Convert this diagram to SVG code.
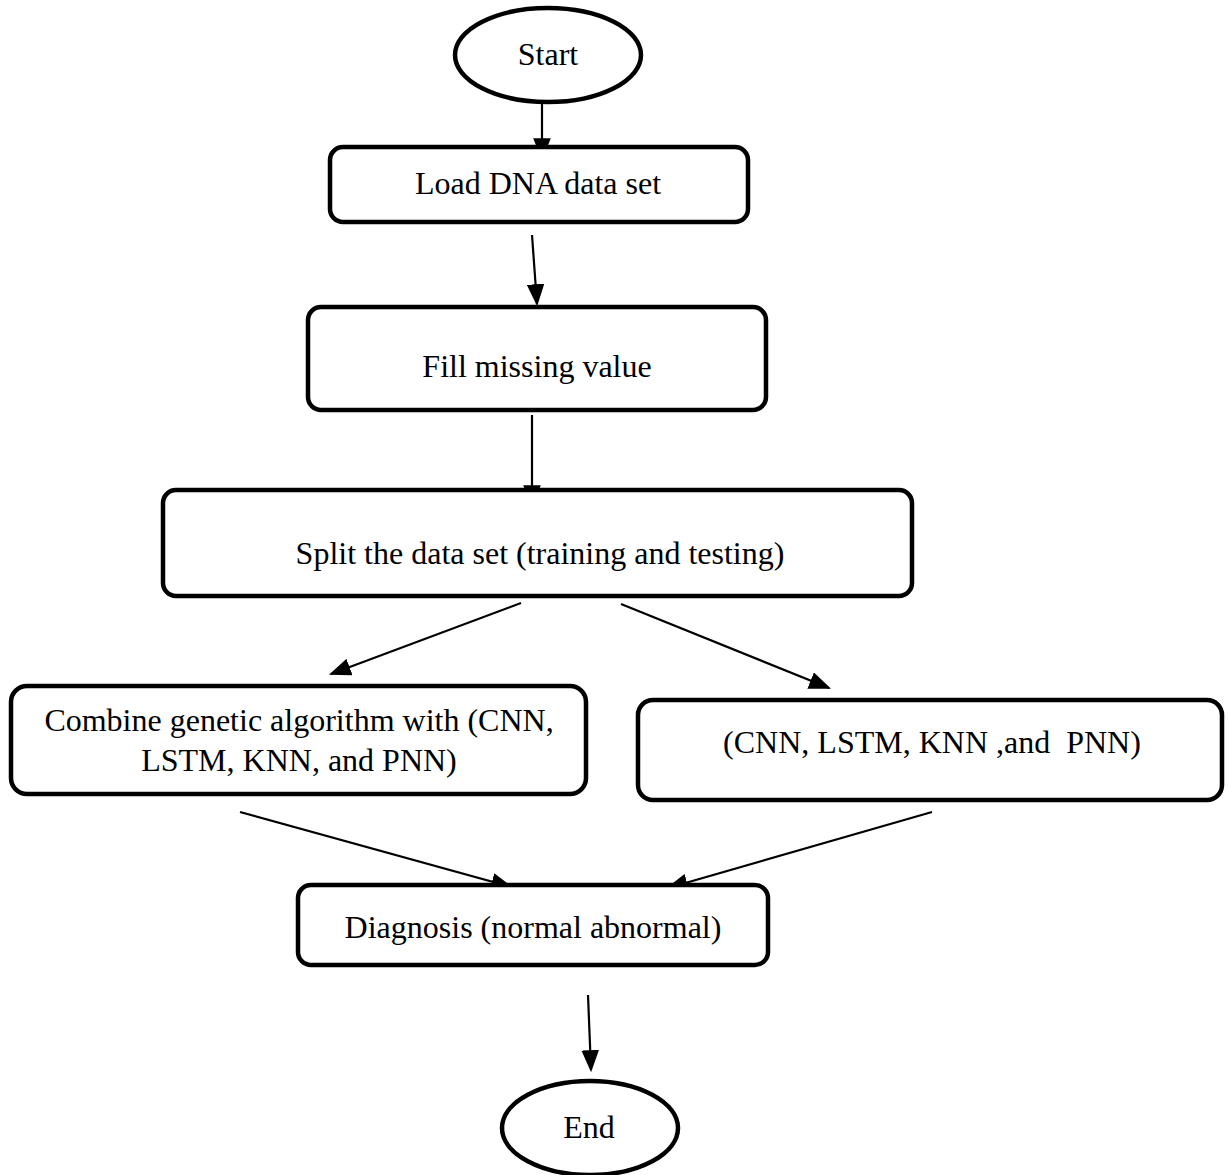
<svg xmlns="http://www.w3.org/2000/svg" width="1229" height="1175" viewBox="0 0 1229 1175">
<style>
.box{fill:#fff;stroke:#000;stroke-width:4.5}
.t{font-family:"Liberation Serif","Times New Roman",serif;font-size:32px;fill:#000;text-anchor:middle;white-space:pre}
.c{stroke:#000;stroke-width:2.2;fill:none;marker-end:url(#ah)}
</style>
<defs>
<marker id="ah" markerWidth="10" markerHeight="8" refX="9" refY="4" orient="auto" markerUnits="strokeWidth">
<path d="M0,0 L10,4 L0,8 Z" fill="#000"/>
</marker>
</defs>
<rect width="1229" height="1175" fill="#fff"/>
<g id="connectors">
<line class="c" x1="542" y1="102" x2="542" y2="158"/>
<line class="c" x1="532" y1="235" x2="537" y2="304"/>
<line class="c" x1="532" y1="415" x2="532" y2="505"/>
<line class="c" x1="521" y1="603" x2="331" y2="674"/>
<line class="c" x1="621" y1="604" x2="829" y2="688"/>
<line class="c" x1="240" y1="812" x2="511" y2="887"/>
<line class="c" x1="932" y1="812" x2="668" y2="888"/>
<line class="c" x1="588" y1="995" x2="591" y2="1070"/>
</g>
<g id="start">
<ellipse class="box" cx="548" cy="55" rx="93" ry="47"/>
<text class="t" x="548" y="65">Start</text>
</g>
<g id="load">
<rect class="box" x="330" y="147" width="418" height="75" rx="13"/>
<text class="t" x="538" y="194">Load DNA data set</text>
</g>
<g id="fill">
<rect class="box" x="308" y="307" width="458" height="103" rx="13"/>
<text class="t" x="537" y="377">Fill missing value</text>
</g>
<g id="split">
<rect class="box" x="163" y="490" width="749" height="106" rx="13"/>
<text class="t" x="540" y="564">Split the data set (training and testing)</text>
</g>
<g id="combine">
<rect class="box" x="11" y="686" width="575" height="108" rx="16"/>
<text class="t" x="299" y="731">Combine genetic algorithm with (CNN,</text>
<text class="t" x="299" y="771">LSTM, KNN, and PNN)</text>
</g>
<g id="models">
<rect class="box" x="638" y="700" width="584" height="100" rx="15"/>
<text class="t" x="932" y="753">(CNN, LSTM, KNN ,and  PNN)</text>
</g>
<g id="diagnosis">
<rect class="box" x="298" y="885" width="470" height="80" rx="13"/>
<text class="t" x="533" y="938">Diagnosis (normal abnormal)</text>
</g>
<g id="end">
<ellipse class="box" cx="590" cy="1128" rx="88" ry="47"/>
<text class="t" x="589" y="1138">End</text>
</g>
</svg>
